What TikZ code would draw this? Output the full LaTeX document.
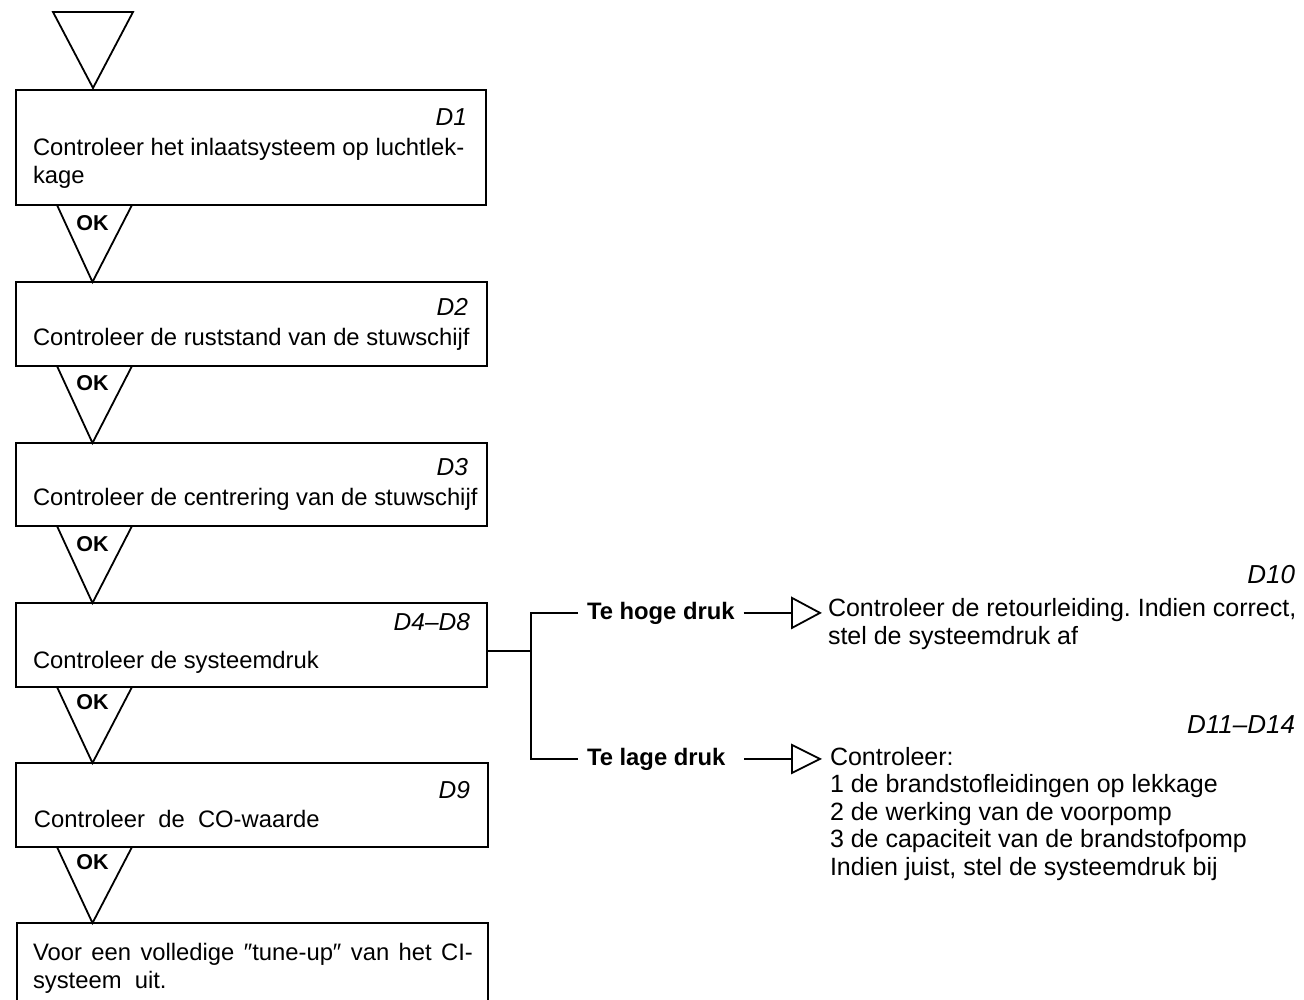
\documentclass[tikz,border=0pt]{standalone}
\usepackage{fontspec}
\setmainfont{Liberation Sans}
\usetikzlibrary{calc}
\begin{document}
\begin{tikzpicture}[x=1pt,y=-1pt,
  every node/.style={inner sep=0pt, outer sep=0pt},
  frame/.style={draw, line width=1.8pt, anchor=north west},
  flow/.style={line width=1.8pt, line join=miter},
  % multi-line texts are anchored at the baseline of their last line
  body/.style={anchor=base west, align=left, font=\fontsize{23.8}{28}\selectfont},
  ref/.style={anchor=base east, font=\fontsize{24.5}{28}\selectfont\itshape},
  rref/.style={anchor=base east, font=\fontsize{26}{28}\selectfont\itshape},
  oklabel/.style={anchor=base, font=\fontsize{21.5}{24}\selectfont\bfseries},
  branch/.style={anchor=base west, font=\fontsize{23.8}{28}\selectfont\bfseries},
  note/.style={anchor=base west, align=left, font=\fontsize{25}{27.5}\selectfont},
]
\clip (0,0) rectangle (1304,999);

% start symbol
\draw[flow] (53,12) -- (133,12) -- (93,88) -- cycle;

% step boxes
\node[frame, minimum width=470pt, minimum height=115pt] (b1) at (16,90) {};
\node[frame, minimum width=471pt, minimum height=84pt]  (b2) at (16,282) {};
\node[frame, minimum width=471pt, minimum height=83pt]  (b3) at (16,443) {};
\node[frame, minimum width=471pt, minimum height=84pt]  (b4) at (16,603) {};
\node[frame, minimum width=472pt, minimum height=84pt]  (b5) at (16,763) {};
\node[frame, minimum width=471pt, minimum height=95pt]  (b6) at (17,923) {};

% box texts
\node[ref]  (r1) at (467,125) {D1};
\node[body] (t1) at (33,183) {Controleer het inlaatsysteem op luchtlek-\\kage};
\node[ref]  (r2) at (468,315) {D2};
\node[body] (t2) at (33,345) {Controleer de ruststand van de stuwschijf};
\node[ref]  (r3) at (468,475) {D3};
\node[body] (t3) at (33,505) {Controleer de centrering van de stuwschijf};
\node[ref]  (r4) at (470,630) {D4--D8};
\node[body] (t4) at (33,668) {Controleer\ de\ systeemdruk};
\node[ref]  (r5) at (470,798) {D9};
\node[body] (t5) at (34,827) {Controleer\ \ de\ \ CO-waarde};
\node[body] (t6) at (33,988) {\makebox[440pt][s]{Voor een volledige ″tune-up″ van het CI-}\\systeem\ \ uit.};

% OK drops between consecutive boxes
\newcommand\okdrop[2]{%
  \draw[flow] let \p1=(#1.south west), \p2=(#2.north west) in
    (\x1+41pt,\y1) -- (\x1+116pt,\y1) -- (\x1+76.5pt,\y2) -- cycle;}
\okdrop{b1}{b2}
\okdrop{b2}{b3}
\okdrop{b3}{b4}
\okdrop{b4}{b5}
\okdrop{b5}{b6}
\node[oklabel] (ok1) at (92.5,230) {OK};
\node[oklabel] (ok2) at (92.5,390) {OK};
\node[oklabel] (ok3) at (92.5,551) {OK};
\node[oklabel] (ok4) at (92.5,709) {OK};
\node[oklabel] (ok5) at (92.5,869) {OK};

% pressure branches
\coordinate (fork) at (531,651);
\coordinate (tip) at (792,0);
\node[branch] (hoge) at (587,619) {Te hoge druk};
\node[branch] (lage) at (587,765) {Te lage druk};
\draw[flow] (b4.east |- fork) -- (fork);
\draw[flow] ([xshift=-9pt]hoge.west) -| (fork) |- ([xshift=-9pt]lage.west);

\draw[flow] ([xshift=9pt]hoge.east) -- (hoge.east -| tip);
\draw[flow] (hoge.east -| tip) ++(0,-15) -- ++(28,15) -- ++(-28,15) -- cycle;
\draw[flow] ([xshift=19pt]lage.east) -- (lage.east -| tip);
\draw[flow] (lage.east -| tip) ++(0,-14) -- ++(28,14) -- ++(-28,14) -- cycle;

% remedies
\node[rref] (r10) at (1295,583) {D10};
\node[note] (n10) at (828,644) {Controleer\ de\ retourleiding.\ Indien\ correct,\\stel de systeemdruk af};
\node[rref] (r11) at (1295,733) {D11--D14};
\node[note] (n11) at (830,875) {Controleer:\\1 de brandstofleidingen op lekkage\\2 de werking van de voorpomp\\3 de capaciteit van de brandstofpomp\\Indien juist, stel de systeemdruk bij};
\end{tikzpicture}
\end{document}
